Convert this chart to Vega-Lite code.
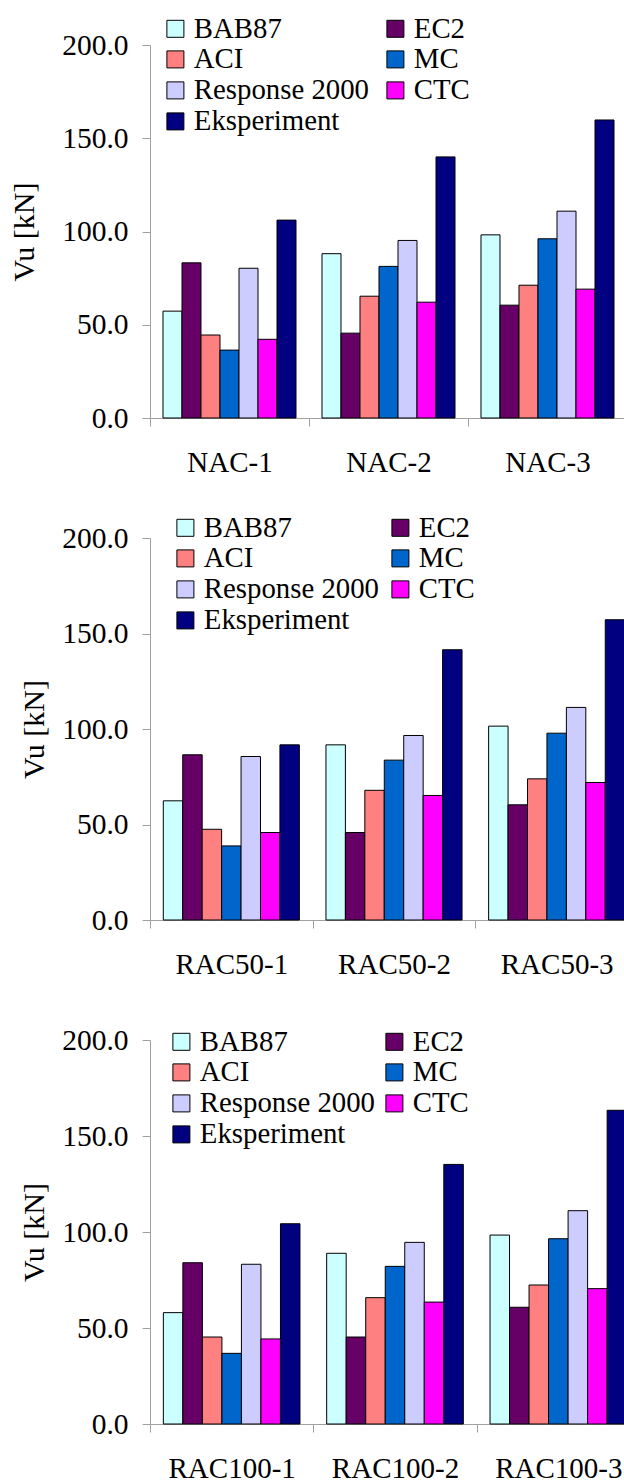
{
  "$schema": "https://vega.github.io/schema/vega-lite/v6.json",
  "padding": {"left": 9, "top": 14, "right": 0, "bottom": 0},
  "autosize": {"type": "pad"},
  "bounds": "flush",
  "spacing": 120,
  "config": {
    "view": {"stroke": null},
    "font": "'Liberation Serif', 'Times New Roman', serif",
    "axis": {
      "domainColor": "#a0a0a0", "tickColor": "#a0a0a0", "domainWidth": 1, "tickWidth": 1,
      "labelColor": "black", "titleColor": "black",
      "labelFont": "'Liberation Serif', 'Times New Roman', serif", "titleFont": "'Liberation Serif', 'Times New Roman', serif", "titleFontWeight": "normal",
      "grid": false, "tickSize": 8
    },
    "axisX": {"labelFontSize": 29, "labelPadding": 22, "tickBand": "extent", "labelAngle": 0, "title": null},
    "axisY": {"labelFontSize": 29.5, "labelPadding": 14, "titleFontSize": 30},
    "legend": {
      "title": null, "orient": "none", "direction": "horizontal", "columns": 2, "rowPadding": 1,
      "symbolType": "square", "symbolSize": 289, "symbolStrokeColor": "black", "symbolStrokeWidth": 1, "symbolOpacity": 1,
      "labelFont": "'Liberation Serif', 'Times New Roman', serif", "labelFontSize": 28.8, "labelColor": "black", "labelLimit": 400, "labelOffset": 4, "padding": 0
    }
  },
  "datasets": {
    "nac": [
      {"specimen": "NAC-1", "method": "BAB87", "vu": 57.3},
      {"specimen": "NAC-1", "method": "EC2", "vu": 83.2},
      {"specimen": "NAC-1", "method": "ACI", "vu": 44.5},
      {"specimen": "NAC-1", "method": "MC", "vu": 36.4},
      {"specimen": "NAC-1", "method": "Response 2000", "vu": 80.3},
      {"specimen": "NAC-1", "method": "CTC", "vu": 42.2},
      {"specimen": "NAC-1", "method": "Eksperiment", "vu": 106.1},
      {"specimen": "NAC-2", "method": "BAB87", "vu": 88.1},
      {"specimen": "NAC-2", "method": "EC2", "vu": 45.5},
      {"specimen": "NAC-2", "method": "ACI", "vu": 65.3},
      {"specimen": "NAC-2", "method": "MC", "vu": 81.3},
      {"specimen": "NAC-2", "method": "Response 2000", "vu": 95.2},
      {"specimen": "NAC-2", "method": "CTC", "vu": 62.1},
      {"specimen": "NAC-2", "method": "Eksperiment", "vu": 140.0},
      {"specimen": "NAC-3", "method": "BAB87", "vu": 98.2},
      {"specimen": "NAC-3", "method": "EC2", "vu": 60.5},
      {"specimen": "NAC-3", "method": "ACI", "vu": 71.2},
      {"specimen": "NAC-3", "method": "MC", "vu": 96.1},
      {"specimen": "NAC-3", "method": "Response 2000", "vu": 110.9},
      {"specimen": "NAC-3", "method": "CTC", "vu": 69.1},
      {"specimen": "NAC-3", "method": "Eksperiment", "vu": 159.8}
    ],
    "rac50": [
      {"specimen": "RAC50-1", "method": "BAB87", "vu": 62.4},
      {"specimen": "RAC50-1", "method": "EC2", "vu": 86.5},
      {"specimen": "RAC50-1", "method": "ACI", "vu": 47.5},
      {"specimen": "RAC50-1", "method": "MC", "vu": 38.8},
      {"specimen": "RAC50-1", "method": "Response 2000", "vu": 85.6},
      {"specimen": "RAC50-1", "method": "CTC", "vu": 45.8},
      {"specimen": "RAC50-1", "method": "Eksperiment", "vu": 91.7},
      {"specimen": "RAC50-2", "method": "BAB87", "vu": 91.7},
      {"specimen": "RAC50-2", "method": "EC2", "vu": 45.8},
      {"specimen": "RAC50-2", "method": "ACI", "vu": 67.9},
      {"specimen": "RAC50-2", "method": "MC", "vu": 83.7},
      {"specimen": "RAC50-2", "method": "Response 2000", "vu": 96.6},
      {"specimen": "RAC50-2", "method": "CTC", "vu": 65.2},
      {"specimen": "RAC50-2", "method": "Eksperiment", "vu": 141.5},
      {"specimen": "RAC50-3", "method": "BAB87", "vu": 101.5},
      {"specimen": "RAC50-3", "method": "EC2", "vu": 60.3},
      {"specimen": "RAC50-3", "method": "ACI", "vu": 73.9},
      {"specimen": "RAC50-3", "method": "MC", "vu": 97.8},
      {"specimen": "RAC50-3", "method": "Response 2000", "vu": 111.3},
      {"specimen": "RAC50-3", "method": "CTC", "vu": 72.0},
      {"specimen": "RAC50-3", "method": "Eksperiment", "vu": 157.2}
    ],
    "rac100": [
      {"specimen": "RAC100-1", "method": "BAB87", "vu": 58.0},
      {"specimen": "RAC100-1", "method": "EC2", "vu": 84.0},
      {"specimen": "RAC100-1", "method": "ACI", "vu": 45.3},
      {"specimen": "RAC100-1", "method": "MC", "vu": 36.8},
      {"specimen": "RAC100-1", "method": "Response 2000", "vu": 83.2},
      {"specimen": "RAC100-1", "method": "CTC", "vu": 44.3},
      {"specimen": "RAC100-1", "method": "Eksperiment", "vu": 104.3},
      {"specimen": "RAC100-2", "method": "BAB87", "vu": 88.9},
      {"specimen": "RAC100-2", "method": "EC2", "vu": 45.3},
      {"specimen": "RAC100-2", "method": "ACI", "vu": 65.8},
      {"specimen": "RAC100-2", "method": "MC", "vu": 82.1},
      {"specimen": "RAC100-2", "method": "Response 2000", "vu": 94.6},
      {"specimen": "RAC100-2", "method": "CTC", "vu": 63.5},
      {"specimen": "RAC100-2", "method": "Eksperiment", "vu": 135.2},
      {"specimen": "RAC100-3", "method": "BAB87", "vu": 98.4},
      {"specimen": "RAC100-3", "method": "EC2", "vu": 60.8},
      {"specimen": "RAC100-3", "method": "ACI", "vu": 72.4},
      {"specimen": "RAC100-3", "method": "MC", "vu": 96.5},
      {"specimen": "RAC100-3", "method": "Response 2000", "vu": 111.1},
      {"specimen": "RAC100-3", "method": "CTC", "vu": 70.5},
      {"specimen": "RAC100-3", "method": "Eksperiment", "vu": 163.4}
    ]
  },
  "vconcat": [
    {
      "width": 477, "height": 373,
      "data": {"name": "nac"},
      "mark": {"type": "bar", "stroke": "black", "strokeWidth": 1},
      "encoding": {
        "x": {"field": "specimen", "type": "nominal", "scale": {"paddingInner": 0, "paddingOuter": 0}},
        "xOffset": {"field": "method", "type": "nominal", "scale": {"domain": ["BAB87", "EC2", "ACI", "MC", "Response 2000", "CTC", "Eksperiment"], "paddingInner": 0, "paddingOuter": 0.684}},
        "y": {"field": "vu", "type": "quantitative", "scale": {"domain": [0, 200]}, "axis": {"title": "Vu [kN]", "titlePadding": 22, "values": [0, 50, 100, 150, 200], "format": ".1f"}},
        "color": {"field": "method", "type": "nominal",
          "scale": {"domain": ["BAB87", "EC2", "ACI", "MC", "Response 2000", "CTC", "Eksperiment"], "range": ["#CCFFFF", "#660066", "#FF8080", "#0066CC", "#CCCCFF", "#FF00FF", "#000080"]},
          "legend": {"legendX": 11, "legendY": -31, "columnPadding": 12, "direction": "horizontal", "columns": 2}}
      }
    },
    {
      "width": 488, "height": 382,
      "data": {"name": "rac50"},
      "mark": {"type": "bar", "stroke": "black", "strokeWidth": 1},
      "encoding": {
        "x": {"field": "specimen", "type": "nominal", "scale": {"paddingInner": 0, "paddingOuter": 0}},
        "xOffset": {"field": "method", "type": "nominal", "scale": {"domain": ["BAB87", "EC2", "ACI", "MC", "Response 2000", "CTC", "Eksperiment"], "paddingInner": 0, "paddingOuter": 0.684}},
        "y": {"field": "vu", "type": "quantitative", "scale": {"domain": [0, 200]}, "axis": {"title": "Vu [kN]", "titlePadding": 12, "values": [0, 50, 100, 150, 200], "format": ".1f"}},
        "color": {"field": "method", "type": "nominal",
          "scale": {"domain": ["BAB87", "EC2", "ACI", "MC", "Response 2000", "CTC", "Eksperiment"], "range": ["#CCFFFF", "#660066", "#FF8080", "#0066CC", "#CCCCFF", "#FF00FF", "#000080"]},
          "legend": {"legendX": 21, "legendY": -25, "columnPadding": 7, "direction": "horizontal", "columns": 2}}
      }
    },
    {
      "width": 490, "height": 384,
      "data": {"name": "rac100"},
      "mark": {"type": "bar", "stroke": "black", "strokeWidth": 1},
      "encoding": {
        "x": {"field": "specimen", "type": "nominal", "scale": {"paddingInner": 0, "paddingOuter": 0}},
        "xOffset": {"field": "method", "type": "nominal", "scale": {"domain": ["BAB87", "EC2", "ACI", "MC", "Response 2000", "CTC", "Eksperiment"], "paddingInner": 0, "paddingOuter": 0.684}},
        "y": {"field": "vu", "type": "quantitative", "scale": {"domain": [0, 200]}, "axis": {"title": "Vu [kN]", "titlePadding": 12, "values": [0, 50, 100, 150, 200], "format": ".1f"}},
        "color": {"field": "method", "type": "nominal",
          "scale": {"domain": ["BAB87", "EC2", "ACI", "MC", "Response 2000", "CTC", "Eksperiment"], "range": ["#CCFFFF", "#660066", "#FF8080", "#0066CC", "#CCCCFF", "#FF00FF", "#000080"]},
          "legend": {"legendX": 17, "legendY": -13, "columnPadding": 5, "direction": "horizontal", "columns": 2}}
      }
    }
  ],
  "resolve": {"scale": {"color": "independent", "x": "independent", "xOffset": "independent", "y": "independent"}}
}
